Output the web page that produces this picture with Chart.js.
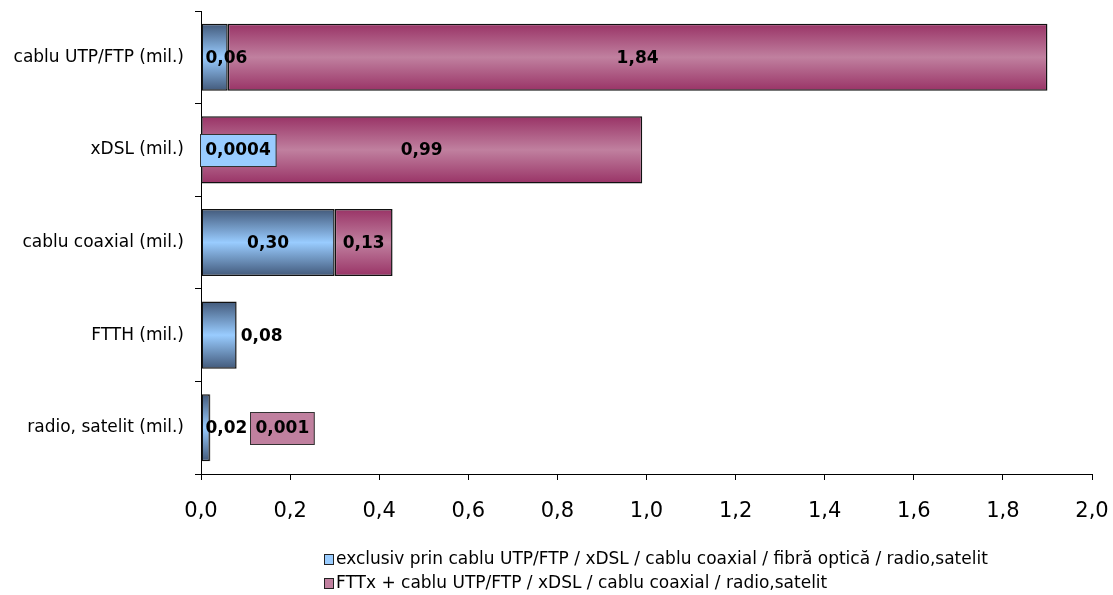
<!DOCTYPE html>
<html>
<head>
<meta charset="utf-8">
<script src="https://cdn.jsdelivr.net/npm/chart.js@4.4.1/dist/chart.umd.min.js"></script>
<style>
  html, body { margin: 0; padding: 0; background: #fff; }
  #wrap { position: relative; width: 1113px; height: 595px; }
</style>
</head>
<body>
<div id="wrap"><canvas id="c"></canvas></div>
<script>
const categories = ['cablu UTP/FTP (mil.)', 'xDSL (mil.)', 'cablu coaxial (mil.)', 'FTTH (mil.)', 'radio, satelit (mil.)'];
const exclusivValues = [0.06, 0.0004, 0.30, 0.08, 0.02];
const fttxValues = [1.84, 0.99, 0.13, null, 0.001];
const seriesNames = [
  'exclusiv prin cablu UTP/FTP / xDSL / cablu coaxial / fibră optică / radio,satelit',
  'FTTx + cablu UTP/FTP / xDSL / cablu coaxial / radio,satelit'
];
const xTickLabels = ['0,0', '0,2', '0,4', '0,6', '0,8', '1,0', '1,2', '1,4', '1,6', '1,8', '2,0'];

const BAR_PCT = 0.725;
const BLUE_DARK = '#42597a', BLUE_LIGHT = '#99ccff';
const PURP_DARK = '#993366', PURP_LIGHT = '#c0809f';
const FONT = '"DejaVu Sans", Verdana, sans-serif';

function gradFill(dark, light) {
  return function (ctx) {
    const chart = ctx.chart;
    const ys = chart.scales && chart.scales.y;
    if (!ys || ctx.dataIndex === undefined || !ys.height) return light;
    const c = ys.getPixelForValue(ctx.dataIndex);
    const h = (ys.height / categories.length) * BAR_PCT;
    const g = chart.ctx.createLinearGradient(0, c - h / 2, 0, c + h / 2);
    g.addColorStop(0, dark);
    g.addColorStop(0.5, light);
    g.addColorStop(1, dark);
    return g;
  };
}

function fmt(v) {
  let s = v.toFixed(2);
  if (Number(s) !== v) s = String(v);
  return s.replace('.', ',');
}

const labelPlugin = {
  id: 'valueLabels',
  afterDatasetsDraw(chart, args, opts) {
    const ctx = chart.ctx;
    ctx.save();
    ctx.font = 'bold 17px ' + FONT;
    ctx.textBaseline = 'middle';
    ctx.textAlign = 'left';
    const lastRight = {};
    chart.data.datasets.forEach((ds, di) => {
      const meta = chart.getDatasetMeta(di);
      meta.data.forEach((el, i) => {
        const v = ds.data[i];
        if (v === null || v === undefined || v <= 0) return;
        const text = fmt(v);
        const p = el.getProps(['x', 'y', 'base'], true);
        const left = Math.min(p.x, p.base), right = Math.max(p.x, p.base);
        const w = right - left;
        const tw = ctx.measureText(text).width;
        const boxed = w < 3;
        const pad = boxed ? 5 : 0;
        let tl;
        if ((opts.outside || []).includes(categories[i])) {
          tl = right + 4;
        } else {
          tl = Math.max((left + right) / 2 - tw / 2, left + 4);
        }
        const prev = lastRight[i];
        if (prev !== undefined && tl - pad < prev + 3) tl = prev + 3 + pad;
        if (boxed) {
          ctx.fillStyle = ds.boxColor;
          ctx.strokeStyle = '#333';
          ctx.lineWidth = 1;
          const bx = Math.round(tl - pad) + 0.5, by = Math.round(p.y - 16) + 0.5;
          ctx.fillRect(bx, by, tw + 2 * pad, 32);
          ctx.strokeRect(bx, by, tw + 2 * pad, 32);
        }
        ctx.fillStyle = '#000';
        ctx.fillText(text, tl, p.y + 1);
        lastRight[i] = tl + tw + pad;
      });
    });
    ctx.restore();
  }
};

const legendPlugin = {
  id: 'customLegend',
  afterDraw(chart) {
    const ctx = chart.ctx;
    ctx.save();
    ctx.font = '17px "DejaVu Sans", sans-serif';
    ctx.textBaseline = 'middle';
    ctx.textAlign = 'left';
    const rows = [560, 584];
    chart.data.datasets.forEach((ds, di) => {
      const y = rows[di];
      ctx.fillStyle = ds.boxColor;
      ctx.strokeStyle = '#222';
      ctx.lineWidth = 1;
      ctx.fillRect(324.5, y - 5.5, 9, 10);
      ctx.strokeRect(324.5, y - 5.5, 9, 10);
      ctx.fillStyle = '#000';
      ctx.fillText(ds.label, 336, y);
    });
    ctx.restore();
  }
};

function zeroPad(s) {
  s.paddingLeft = 0; s.paddingRight = 0; s.paddingTop = 0; s.paddingBottom = 0;
}

new Chart(document.getElementById('c'), {
  type: 'bar',
  data: {
    labels: categories,
    datasets: [
      {
        label: seriesNames[0],
        data: exclusivValues,
        backgroundColor: gradFill(BLUE_DARK, BLUE_LIGHT),
        boxColor: BLUE_LIGHT,
        borderColor: '#111',
        borderWidth: 1.5,
        borderSkipped: false,
        barPercentage: BAR_PCT,
        categoryPercentage: 1
      },
      {
        label: seriesNames[1],
        data: fttxValues,
        backgroundColor: gradFill(PURP_DARK, PURP_LIGHT),
        boxColor: PURP_LIGHT,
        borderColor: '#111',
        borderWidth: 1.5,
        borderSkipped: false,
        barPercentage: BAR_PCT,
        categoryPercentage: 1
      }
    ]
  },
  options: {
    indexAxis: 'y',
    responsive: true,
    maintainAspectRatio: false,
    animation: false,
    layout: { padding: { left: 0, right: 21, top: 11, bottom: 61 } },
    plugins: {
      legend: { display: false },
      tooltip: { enabled: false },
      valueLabels: { outside: ['FTTH (mil.)'] }
    },
    scales: {
      x: {
        stacked: true,
        min: 0,
        max: 2,
        ticks: {
          stepSize: 0.2,
          color: '#000',
          font: { family: FONT, size: 21 },
          padding: 19,
          maxRotation: 0,
          autoSkip: false,
          callback: (v, i) => xTickLabels[i]
        },
        grid: { display: true, drawOnChartArea: false, drawTicks: true, tickLength: 6, color: '#000' },
        border: { display: true, color: '#000', width: 1 },
        afterFit: (s) => { s.height = 60; zeroPad(s); }
      },
      y: {
        stacked: true,
        ticks: {
          color: '#000',
          font: { family: FONT, size: 17 },
          padding: 11,
          autoSkip: false
        },
        grid: { display: true, offset: true, drawOnChartArea: false, drawTicks: true, tickLength: 6, color: '#000' },
        border: { display: true, color: '#000', width: 1 },
        afterFit: (s) => { s.width = 201; zeroPad(s); }
      }
    }
  },
  plugins: [labelPlugin, legendPlugin]
});
</script>
</body>
</html>
